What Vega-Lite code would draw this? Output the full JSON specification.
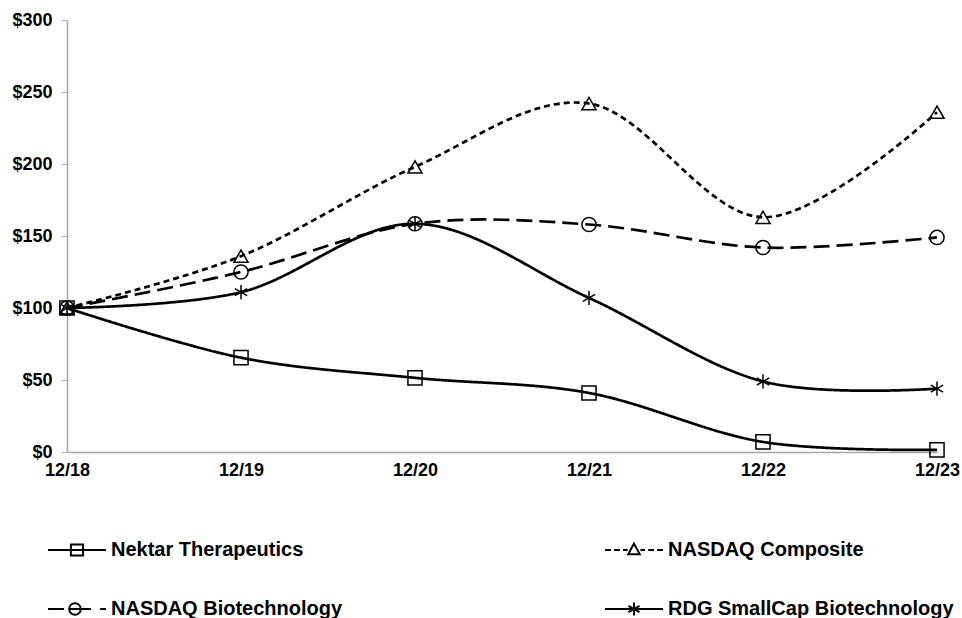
{
  "$schema": "https://vega.github.io/schema/vega-lite/v6.json",
  "width": 870,
  "height": 432,
  "autosize": {"type": "none"},
  "padding": {"left": 67, "top": 20, "right": 25, "bottom": 166},
  "background": "white",
  "config": {"view": {"stroke": null}, "font": "Liberation Sans"},
  "datasets": {
    "returns": [
      {"series": "Nektar Therapeutics", "period": "12/18", "value": 100},
      {"series": "Nektar Therapeutics", "period": "12/19", "value": 65.5},
      {"series": "Nektar Therapeutics", "period": "12/20", "value": 51.5},
      {"series": "Nektar Therapeutics", "period": "12/21", "value": 41},
      {"series": "Nektar Therapeutics", "period": "12/22", "value": 7},
      {"series": "Nektar Therapeutics", "period": "12/23", "value": 1.5},
      {"series": "NASDAQ Composite", "period": "12/18", "value": 100},
      {"series": "NASDAQ Composite", "period": "12/19", "value": 136},
      {"series": "NASDAQ Composite", "period": "12/20", "value": 198},
      {"series": "NASDAQ Composite", "period": "12/21", "value": 242},
      {"series": "NASDAQ Composite", "period": "12/22", "value": 163},
      {"series": "NASDAQ Composite", "period": "12/23", "value": 236},
      {"series": "NASDAQ Biotechnology", "period": "12/18", "value": 100},
      {"series": "NASDAQ Biotechnology", "period": "12/19", "value": 125},
      {"series": "NASDAQ Biotechnology", "period": "12/20", "value": 158.5},
      {"series": "NASDAQ Biotechnology", "period": "12/21", "value": 158},
      {"series": "NASDAQ Biotechnology", "period": "12/22", "value": 142},
      {"series": "NASDAQ Biotechnology", "period": "12/23", "value": 149},
      {"series": "RDG SmallCap Biotechnology", "period": "12/18", "value": 100},
      {"series": "RDG SmallCap Biotechnology", "period": "12/19", "value": 111},
      {"series": "RDG SmallCap Biotechnology", "period": "12/20", "value": 158.5},
      {"series": "RDG SmallCap Biotechnology", "period": "12/21", "value": 107},
      {"series": "RDG SmallCap Biotechnology", "period": "12/22", "value": 49},
      {"series": "RDG SmallCap Biotechnology", "period": "12/23", "value": 44}
    ],
    "legendItems": [
      {"name": "Nektar Therapeutics"},
      {"name": "NASDAQ Composite"},
      {"name": "NASDAQ Biotechnology"},
      {"name": "RDG SmallCap Biotechnology"}
    ]
  },
  "resolve": {"scale": {"shape": "independent"}},
  "layer": [
    {
      "data": {"name": "returns"},
      "encoding": {
        "x": {
          "field": "period",
          "type": "ordinal",
          "sort": ["12/18", "12/19", "12/20", "12/21", "12/22", "12/23"],
          "scale": {"type": "point", "padding": 0},
          "axis": {
            "title": null,
            "labelAngle": 0,
            "labelFont": "Liberation Sans",
            "labelFontSize": 18,
            "labelFontWeight": "bold",
            "labelColor": "black",
            "labelPadding": 9,
            "ticks": false,
            "domainColor": "#a6a6a6",
            "domainWidth": 1.5,
            "grid": false
          }
        },
        "y": {
          "field": "value",
          "type": "quantitative",
          "scale": {"domain": [0, 300], "nice": false},
          "axis": {
            "title": null,
            "values": [0, 50, 100, 150, 200, 250, 300],
            "format": "$.0f",
            "labelFont": "Liberation Sans",
            "labelFontSize": 18,
            "labelFontWeight": "bold",
            "labelColor": "black",
            "labelPadding": 10,
            "tickSize": 5,
            "tickColor": "#a6a6a6",
            "domainColor": "#a6a6a6",
            "domainWidth": 1.5,
            "grid": false
          }
        }
      },
      "layer": [
        {
          "mark": {"type": "line", "interpolate": "cardinal", "strokeWidth": 2.7, "color": "black"},
          "encoding": {
            "detail": {"field": "series", "type": "nominal"},
            "strokeDash": {
              "field": "series",
              "type": "nominal",
              "scale": {
                "domain": ["Nektar Therapeutics", "NASDAQ Composite", "NASDAQ Biotechnology", "RDG SmallCap Biotechnology"],
                "range": [[1, 0], [6, 4], [16, 7], [1, 0]]
              },
              "legend": null
            }
          }
        },
        {
          "mark": {"type": "point", "filled": false, "color": "black", "stroke": "black", "strokeWidth": 1.5, "size": 200, "opacity": 1},
          "encoding": {
            "shape": {
              "field": "series",
              "type": "nominal",
              "scale": {
                "domain": ["Nektar Therapeutics", "NASDAQ Composite", "NASDAQ Biotechnology", "RDG SmallCap Biotechnology"],
                "range": ["square", "triangle-up", "circle", "M0,-1L0,1M-0.87,-0.5L0.87,0.5M-0.87,0.5L0.87,-0.5"]
              },
              "legend": null
            }
          }
        }
      ]
    },
    {
      "data": {"name": "legendItems"},
      "transform": [{"filter": "false"}],
      "mark": {"type": "point", "filled": false, "color": "black", "stroke": "black", "strokeWidth": 2, "opacity": 1},
      "encoding": {
        "shape": {
          "field": "name",
          "type": "nominal",
          "scale": {
            "domain": ["Nektar Therapeutics", "NASDAQ Composite", "NASDAQ Biotechnology", "RDG SmallCap Biotechnology"],
            "range": [
              "M-1,0L1,0M-0.21,-0.19L0.21,-0.19L0.21,0.19L-0.21,0.19Z",
              "M-1,0L-0.8,0M-0.69,0L-0.49,0M-0.38,0L-0.22,0M0.22,0L0.38,0M0.49,0L0.69,0M0.8,0L1,0M0,-0.22L0.2,0.15L-0.2,0.15Z",
              "M-1,0L-0.45,0M-0.3,0L0.48,0M0.8,0L1,0M-0.27,0A0.2,0.2,0,1,0,0.13,0A0.2,0.2,0,1,0,-0.27,0",
              "M-1,0L1,0M0,-0.22L0,0.22M-0.19,-0.11L0.19,0.11M-0.19,0.11L0.19,-0.11"
            ]
          },
          "legend": {
            "title": null,
            "orient": "none",
            "direction": "horizontal",
            "legendX": -20,
            "legendY": 500,
            "columns": 2,
            "columnPadding": 258,
            "rowPadding": 19,
            "symbolSize": 3364,
            "symbolStrokeWidth": 2,
            "symbolStrokeColor": "black",
            "symbolFillColor": "transparent",
            "labelFont": "Liberation Sans",
            "labelFontSize": 20,
            "labelFontWeight": "bold",
            "labelColor": "black",
            "labelOffset": 4,
            "labelLimit": 0
          }
        }
      }
    }
  ]
}
